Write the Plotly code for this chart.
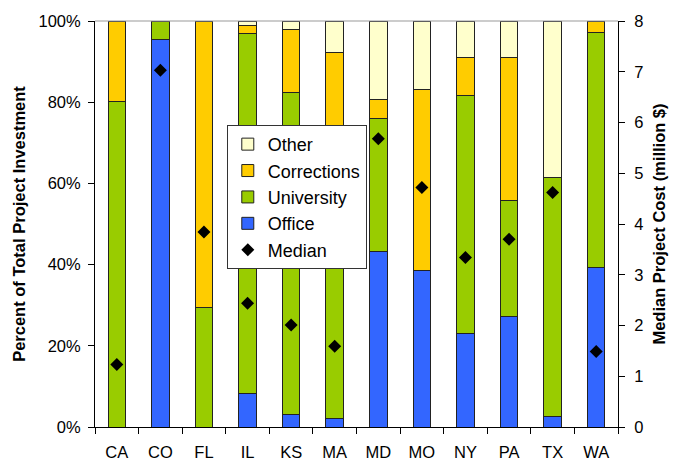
import plotly.graph_objects as go

states = ["CA", "CO", "FL", "IL", "KS", "MA", "MD", "MO", "NY", "PA", "TX", "WA"]
office = [0.0, 95.4, 0.0, 8.2, 3.0, 2.1, 43.3, 38.6, 23.0, 27.3, 2.5, 39.2]
university = [80.2, 4.6, 29.4, 88.6, 79.5, 53.0, 32.6, 0.0, 58.6, 28.4, 58.9, 58.0]
corrections = [19.8, 0.0, 70.6, 2.1, 15.4, 37.1, 4.7, 44.5, 9.4, 35.3, 0.0, 2.8]
other = [0.0, 0.0, 0.0, 1.1, 2.1, 7.8, 19.4, 16.9, 9.0, 9.0, 38.6, 0.0]
median_cost = [1.23, 7.03, 3.84, 2.44, 2.01, 1.59, 5.68, 4.72, 3.34, 3.70, 4.62, 1.49]

font = "Liberation Sans, Arial, sans-serif"
fig = go.Figure()
series = [("Office", office, "#3366FF", 4), ("University", university, "#99CC00", 3),
          ("Corrections", corrections, "#FFCC00", 2), ("Other", other, "#FFFFCC", 1)]
for name, vals, col, rank in series:
    fig.add_trace(go.Bar(x=states, y=vals, name=name, marker=dict(color=col, line=dict(color="#222222", width=1)),
                         width=0.4, legendrank=rank, legendgroup=name))
fig.add_trace(go.Scatter(x=states, y=median_cost, name="Median", mode="markers", yaxis="y2",
                         marker=dict(symbol="diamond", color="black", size=10), legendrank=5, legendgroup="Median"))

fig.update_layout(
    width=673, height=460, barmode="stack", bargap=0.6,
    paper_bgcolor="white", plot_bgcolor="white",
    margin=dict(l=95, r=55, t=21, b=33, autoexpand=False),
    font=dict(family=font, size=16, color="black"),
    showlegend=True,
    legend=dict(x=0.252, y=0.744, xanchor="left", yanchor="top", bgcolor="white",
                bordercolor="#333333", borderwidth=1, font=dict(size=18, family=font),
                traceorder="grouped", tracegroupgap=0, itemwidth=30),
    xaxis=dict(showline=True, linecolor="black", linewidth=1, ticks="outside", ticklen=6,
               tickson="boundaries", tickcolor="black", tickfont=dict(size=16.5), showgrid=False,
               range=[-0.5, 11.5], automargin=False, ticklabelstandoff=10),
    yaxis=dict(range=[0, 100], dtick=20, ticksuffix="%", showline=True, linecolor="black", linewidth=1,
               ticks="outside", ticklen=6, tickcolor="black", showgrid=False, zeroline=False,
               title=dict(text="<b>Percent of Total Project Investment</b>", font=dict(size=16.5), standoff=8),
               tickfont=dict(size=16.5), automargin=False, ticklabelstandoff=4),
    yaxis2=dict(range=[0, 8], dtick=1, overlaying="y", side="right", showline=True, linecolor="black",
                linewidth=1, ticks="outside", ticklen=6, tickcolor="black", showgrid=False, zeroline=False,
                title=dict(text="<b>Median Project Cost (million $)</b>", font=dict(size=16.5), standoff=10),
                tickfont=dict(size=16.5), automargin=False, ticklabelstandoff=6),
    shapes=[dict(type="line", xref="paper", yref="paper", x0=0, x1=1, y0=1, y1=1,
                 line=dict(color="#999999", width=1))],
)
fig.write_html("out.html", config={"displayModeBar": False},
               post_script="document.body.style.margin='0';")
